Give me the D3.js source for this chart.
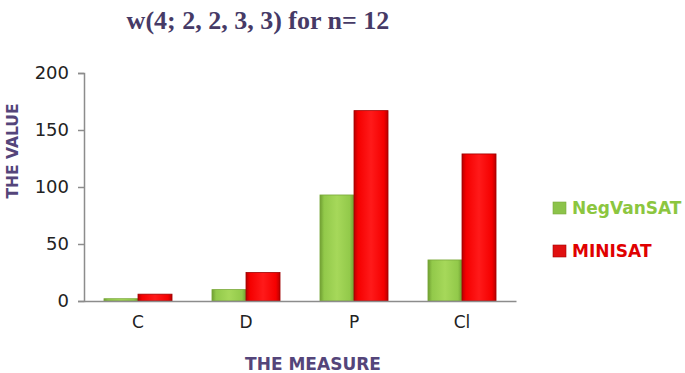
<!DOCTYPE html>
<html>
<head>
<meta charset="utf-8">
<script src="https://cdn.jsdelivr.net/npm/d3@7"></script>
<style>
  body { margin: 0; background: #fff; }
  svg { display: block; }
</style>
</head>
<body>
<svg id="chart"></svg>
<script>
// chart data
const categories = ["C", "D", "P", "Cl"];
const seriesNames = ["NegVanSAT", "MINISAT"];
const negVanSAT = [2, 10, 93, 36];
const minisat = [6, 25, 167, 129];
const yTicks = [0, 50, 100, 150, 200];

const width = 685, height = 373;
const margin = { top: 73, right: 169, bottom: 72, left: 84 };
const innerW = width - margin.left - margin.right;
const innerH = height - margin.top - margin.bottom;

const svg = d3.select("#chart").attr("width", width).attr("height", height);

// gradients to fake the bevelled look
const defs = svg.append("defs");
function bevel(id, light, mid, dark) {
    const g = defs.append("linearGradient").attr("id", id)
        .attr("x1", "0").attr("x2", "1").attr("y1", "0").attr("y2", "0");
    g.append("stop").attr("offset", "0%").attr("stop-color", dark);
    g.append("stop").attr("offset", "12%").attr("stop-color", mid);
    g.append("stop").attr("offset", "50%").attr("stop-color", light);
    g.append("stop").attr("offset", "88%").attr("stop-color", mid);
    g.append("stop").attr("offset", "100%").attr("stop-color", dark);
}
bevel("gGreen", "#a6d85a", "#92c94a", "#6f9e32");
bevel("gRed", "#ff1a1a", "#f50000", "#b80000");
const fills = ["url(#gGreen)", "url(#gRed)"];
const strokes = ["#7aa83a", "#a00000"];
const legendColors = ["#8cc34a", "#e01010"];
const textColors = ["#8cc63f", "#e00000"];
const font = "Verdana, 'DejaVu Sans', sans-serif";

const g = svg.append("g")
    .attr("transform", "translate(" + margin.left + "," + margin.top + ")");

const x = d3.scaleBand().domain(categories).range([0, innerW]).paddingInner(0.37).paddingOuter(0.185);
const xSub = d3.scaleBand().domain(seriesNames).range([0, x.bandwidth()]);
const y = d3.scaleLinear().domain([0, 200]).range([innerH, 0]);

// y axis
const yAxis = g.append("g")
    .call(d3.axisLeft(y).tickValues(yTicks).tickSize(6).tickPadding(9));
yAxis.select(".domain").attr("stroke", "#8c8c8c").attr("stroke-width", 1.5);
yAxis.selectAll(".tick line").attr("stroke", "#8c8c8c").attr("stroke-width", 1.5);
yAxis.selectAll("text").attr("font-family", font)
    .attr("font-size", 18).attr("fill", "#222");

// bars
const rows = categories.map((c, i) => ({ cat: c, vals: [negVanSAT[i], minisat[i]] }));
const groups = g.selectAll(".grp").data(rows).enter().append("g")
    .attr("transform", d => "translate(" + x(d.cat) + ",0)");
groups.selectAll("rect").data(d => d.vals.map((v, k) => ({ v: v, k: k }))).enter()
    .append("rect")
    .attr("x", d => xSub(seriesNames[d.k]))
    .attr("y", d => y(d.v))
    .attr("width", xSub.bandwidth())
    .attr("height", d => innerH - y(d.v))
    .attr("fill", d => fills[d.k])
    .attr("stroke", d => strokes[d.k])
    .attr("stroke-width", 0.8);

// x axis
const xAxis = g.append("g")
    .attr("transform", "translate(0," + innerH + ")")
    .call(d3.axisBottom(x).tickSize(0).tickPadding(15));
xAxis.select(".domain").attr("stroke", "#8c8c8c").attr("stroke-width", 1.5);
xAxis.selectAll("text").attr("font-family", font)
    .attr("font-size", 17).attr("fill", "#222");

// title
svg.append("text")
    .attr("x", 258).attr("y", 29)
    .attr("text-anchor", "middle")
    .attr("font-family", "'Liberation Serif', 'Times New Roman', serif")
    .attr("font-weight", "bold").attr("font-size", 26)
    .attr("fill", "#463a66")
    .text("w(4; 2, 2, 3, 3) for n= 12");

// axis titles
svg.append("text")
    .attr("transform", "translate(18,151) rotate(-90)")
    .attr("text-anchor", "middle")
    .attr("font-family", font)
    .attr("font-weight", "bold").attr("font-size", 15.5)
    .attr("fill", "#54457a")
    .text("THE VALUE");

svg.append("text")
    .attr("x", 313).attr("y", 370)
    .attr("text-anchor", "middle")
    .attr("font-family", font)
    .attr("font-weight", "bold").attr("font-size", 17)
    .attr("fill", "#54457a")
    .text("THE MEASURE");

// legend
const legend = svg.append("g").attr("transform", "translate(553,202)");
seriesNames.forEach((name, k) => {
    const row = legend.append("g").attr("transform", "translate(0," + (k * 43) + ")");
    row.append("rect").attr("width", 13).attr("height", 12)
        .attr("fill", legendColors[k]).attr("stroke", strokes[k]).attr("stroke-width", 0.6);
    row.append("text").attr("x", 19).attr("y", 12)
        .attr("font-family", font)
        .attr("font-weight", "bold").attr("font-size", 17)
        .attr("fill", textColors[k])
        .text(name);
});
</script>
</body>
</html>
